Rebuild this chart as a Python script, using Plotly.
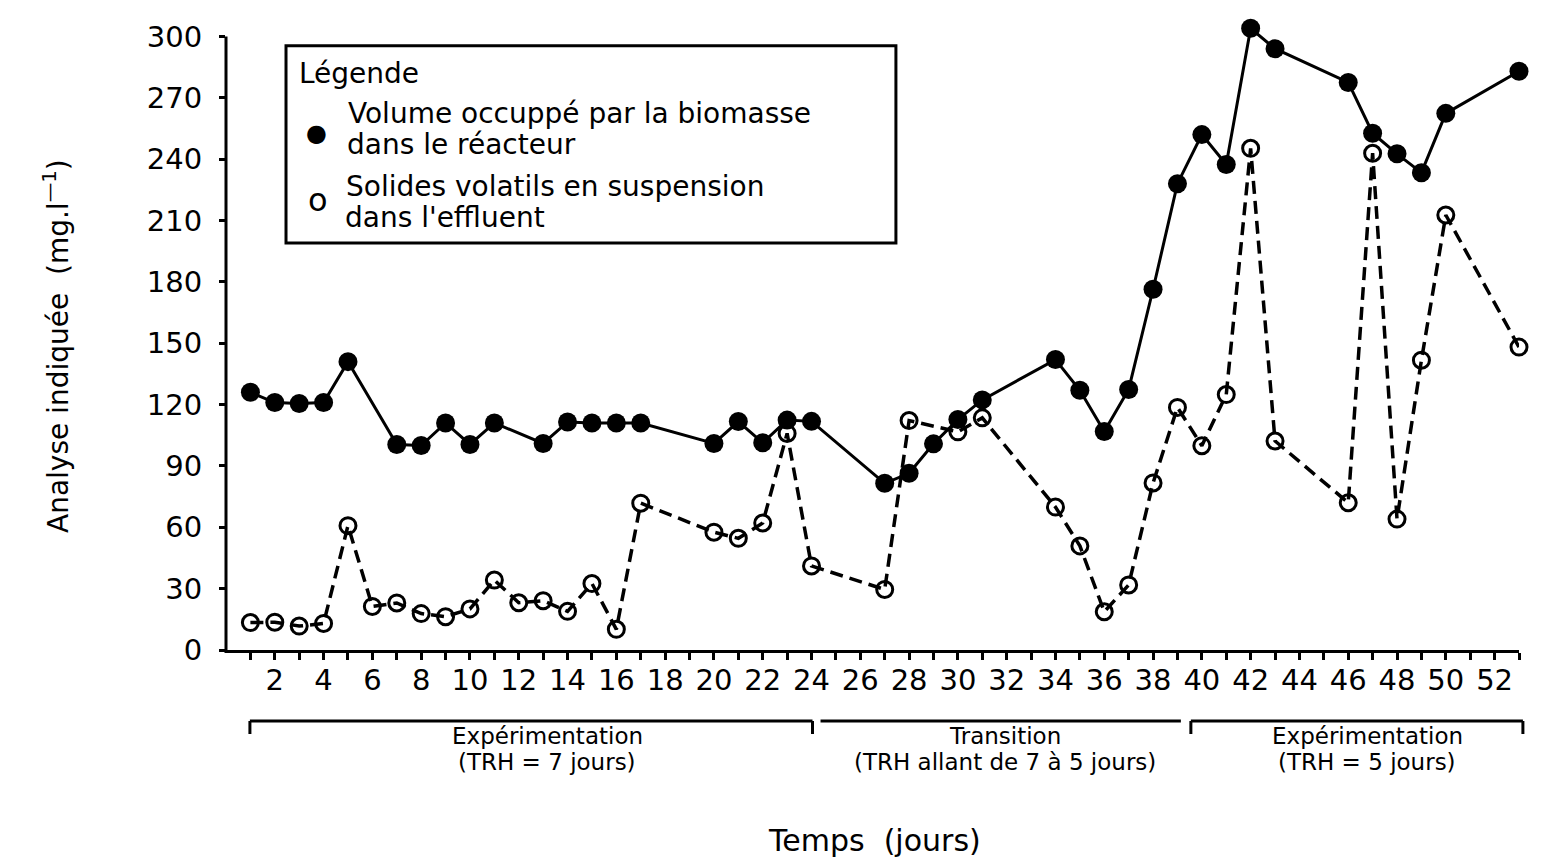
import plotly.graph_objects as go

# ---------------- data ----------------
VOL_DAYS = [1, 2, 3, 4, 5, 7, 8, 9, 10, 11, 13, 14, 15, 16, 17, 20, 21, 22, 23, 24,
            27, 28, 29, 30, 31, 34, 35, 36, 37, 38, 39, 40, 41, 42, 43, 46, 47, 48, 49, 50, 53]
VOL_VALUES = [126, 121, 120.5, 121, 141, 100.5, 100, 111, 100.5, 111, 101, 111.5, 111, 111, 111,
              101, 111.7, 101.3, 112.4, 111.8, 81.5, 86.4, 100.8, 112.7, 122.3, 142, 127, 106.8,
              127.4, 176.4, 228, 252, 237.4, 304, 294, 277.5, 252.7, 242.6, 233.4, 262.4, 283]

SVS_DAYS = [1, 2, 3, 4, 5, 6, 7, 8, 9, 10, 11, 12, 13, 14, 15, 16, 17, 20, 21, 22, 23, 24,
            27, 28, 30, 31, 34, 35, 36, 37, 38, 39, 40, 41, 42, 43, 46, 47, 48, 49, 50, 53]
SVS_VALUES = [13.4, 13.6, 11.7, 13, 60.8, 21.3, 23, 17.8, 16.3, 20.1, 34.2, 23.1, 24.1, 18.9,
              32.5, 10.1, 71.8, 57.6, 54.6, 62.1, 105.9, 41.1, 29.6, 112.2, 106.7, 113.5, 69.9,
              50.9, 18.7, 31.8, 81.7, 118.6, 99.9, 124.9, 245.3, 102.2, 72, 242.9, 64, 141.7,
              212.7, 148.1]

X_TICKS = list(range(2, 53, 2))
X_TICK_LABELS = [str(d) for d in X_TICKS]
X_MINOR_TICKS = list(range(1, 54))
Y_TICKS = [0, 30, 60, 90, 120, 150, 180, 210, 240, 270, 300]
Y_TICK_LABELS = [str(v) for v in Y_TICKS]

LEGEND_TITLE = "Légende"
VOL_NAME = ["Volume occuppé par la biomasse", "dans le réacteur"]
SVS_NAME = ["Solides volatils en suspension", "dans l'effluent"]

PHASES = [
    ("Expérimentation", "(TRH = 7 jours)"),
    ("Transition", "(TRH allant de 7 à 5 jours)"),
    ("Expérimentation", "(TRH = 5 jours)"),
]
PHASE_SPANS = [(0.98, 24.04), (24.37, 39.14), (39.55, 53.16)]
PHASE_TEXT_X = [13.16, 31.93, 46.78]

X_TITLE = "Temps  (jours)"
Y_TITLE = "Analyse indiquée  (mg.l<sup>—1</sup>)"

# ---------------- figure ----------------
FONT = "DejaVu Sans"
XMAX = 53
YMAX_AXIS = 300
YMAX_VIEW = 310
PLOT_W = 1293
PLOT_H = 634

fig = go.Figure()

fig.add_trace(go.Scatter(
    x=SVS_DAYS, y=SVS_VALUES, mode="lines+markers",
    line=dict(color="black", width=3.5, dash="13px,7px"),
    marker=dict(symbol="circle-open", size=16, color="black", line=dict(width=3, color="black")),
    cliponaxis=False, showlegend=False,
))
fig.add_trace(go.Scatter(
    x=VOL_DAYS, y=VOL_VALUES, mode="lines+markers",
    line=dict(color="black", width=3),
    marker=dict(symbol="circle", size=19, color="black"),
    cliponaxis=False, showlegend=False,
))

shapes = []
annotations = []

# y axis line, stopping at 300 like the reference
shapes.append(dict(type="line", xref="paper", yref="paper", x0=0, x1=0,
                   y0=-3 / PLOT_H, y1=YMAX_AXIS / YMAX_VIEW, line=dict(color="black", width=3)))

# legend box (data coordinates)
shapes.append(dict(type="rect", xref="x", yref="y", x0=2.46, x1=27.46, y0=199, y1=295.4,
                   line=dict(color="black", width=3), fillcolor="rgba(0,0,0,0)"))
leg_font = dict(family=FONT, size=28, color="black")
annotations.append(dict(xref="x", yref="y", x=2.9, y=282, text=LEGEND_TITLE, showarrow=False,
                        xanchor="left", yanchor="middle", font=leg_font))
annotations.append(dict(xref="x", yref="y", x=3.69, y=253, text="●", showarrow=False,
                        xanchor="center", yanchor="middle", font=dict(family=FONT, size=24, color="black")))
annotations.append(dict(xref="x", yref="y", x=4.9, y=262.5, text=VOL_NAME[0], showarrow=False,
                        xanchor="left", yanchor="middle", font=leg_font))
annotations.append(dict(xref="x", yref="y", x=4.88, y=247.3, text=VOL_NAME[1], showarrow=False,
                        xanchor="left", yanchor="middle", font=leg_font))
annotations.append(dict(xref="x", yref="y", x=3.79, y=220, text="o", showarrow=False,
                        xanchor="center", yanchor="middle", font=dict(family=FONT, size=32, color="black")))
annotations.append(dict(xref="x", yref="y", x=4.84, y=226.7, text=SVS_NAME[0], showarrow=False,
                        xanchor="left", yanchor="middle", font=leg_font))
annotations.append(dict(xref="x", yref="y", x=4.8, y=211.5, text=SVS_NAME[1], showarrow=False,
                        xanchor="left", yanchor="middle", font=leg_font))


def py(pxbelow):
    return -pxbelow / PLOT_H


# phase brackets below the axis
br_y = py(71)
tick_y = py(84)
for i, (a, b) in enumerate(PHASE_SPANS):
    shapes.append(dict(type="line", xref="paper", yref="paper", x0=a / XMAX, x1=b / XMAX,
                       y0=br_y, y1=br_y, line=dict(color="black", width=3)))
    if i != 1:
        for e in (a, b):
            shapes.append(dict(type="line", xref="paper", yref="paper", x0=e / XMAX, x1=e / XMAX,
                               y0=br_y, y1=tick_y, line=dict(color="black", width=3)))
ph_font = dict(family=FONT, size=23, color="black")
for (l1, l2), xc in zip(PHASES, PHASE_TEXT_X):
    annotations.append(dict(xref="paper", yref="paper", x=xc / XMAX, y=py(86), text=l1,
                            showarrow=False, xanchor="center", yanchor="middle", font=ph_font))
    annotations.append(dict(xref="paper", yref="paper", x=xc / XMAX, y=py(112), text=l2,
                            showarrow=False, xanchor="center", yanchor="middle", font=ph_font))

# axis titles
annotations.append(dict(xref="paper", yref="paper", x=26.58 / XMAX, y=py(190), text=X_TITLE,
                        showarrow=False, xanchor="center", yanchor="middle",
                        font=dict(family=FONT, size=30, color="black")))
annotations.append(dict(xref="paper", yref="paper", x=-170 / PLOT_W, y=304 / PLOT_H, text=Y_TITLE,
                        showarrow=False, xanchor="center", yanchor="middle", textangle=-90,
                        font=dict(family=FONT, size=28, color="black")))

# the page has an 8px body margin, so the figure is 8px smaller than the window
fig.update_layout(
    width=1539, height=856,
    margin=dict(l=218, r=28, t=8, b=214),
    paper_bgcolor="white", plot_bgcolor="white",
    font=dict(family=FONT, size=29, color="black"),
    shapes=shapes, annotations=annotations,
    showlegend=False,
)
fig.update_xaxes(
    range=[0, XMAX], tickmode="array", tickvals=X_TICKS, ticktext=X_TICK_LABELS,
    ticks="outside", ticklen=7, tickwidth=2.5, tickcolor="black",
    minor=dict(tickmode="array", tickvals=X_MINOR_TICKS, ticks="outside", ticklen=7,
               tickwidth=2.5, tickcolor="black", showgrid=False),
    showline=True, linecolor="black", linewidth=3, showgrid=False, zeroline=False,
    tickfont=dict(family=FONT, size=29, color="black"), ticklabelstandoff=-5,
    automargin=False,
)
fig.update_yaxes(
    range=[0, YMAX_VIEW], tickmode="array", tickvals=Y_TICKS, ticktext=Y_TICK_LABELS,
    ticks="outside", ticklen=6, tickwidth=2.5, tickcolor="black",
    showline=False, showgrid=False, zeroline=False,
    tickfont=dict(family=FONT, size=29, color="black"), ticklabelstandoff=11,
    automargin=False,
)

fig.write_html("out.html")
